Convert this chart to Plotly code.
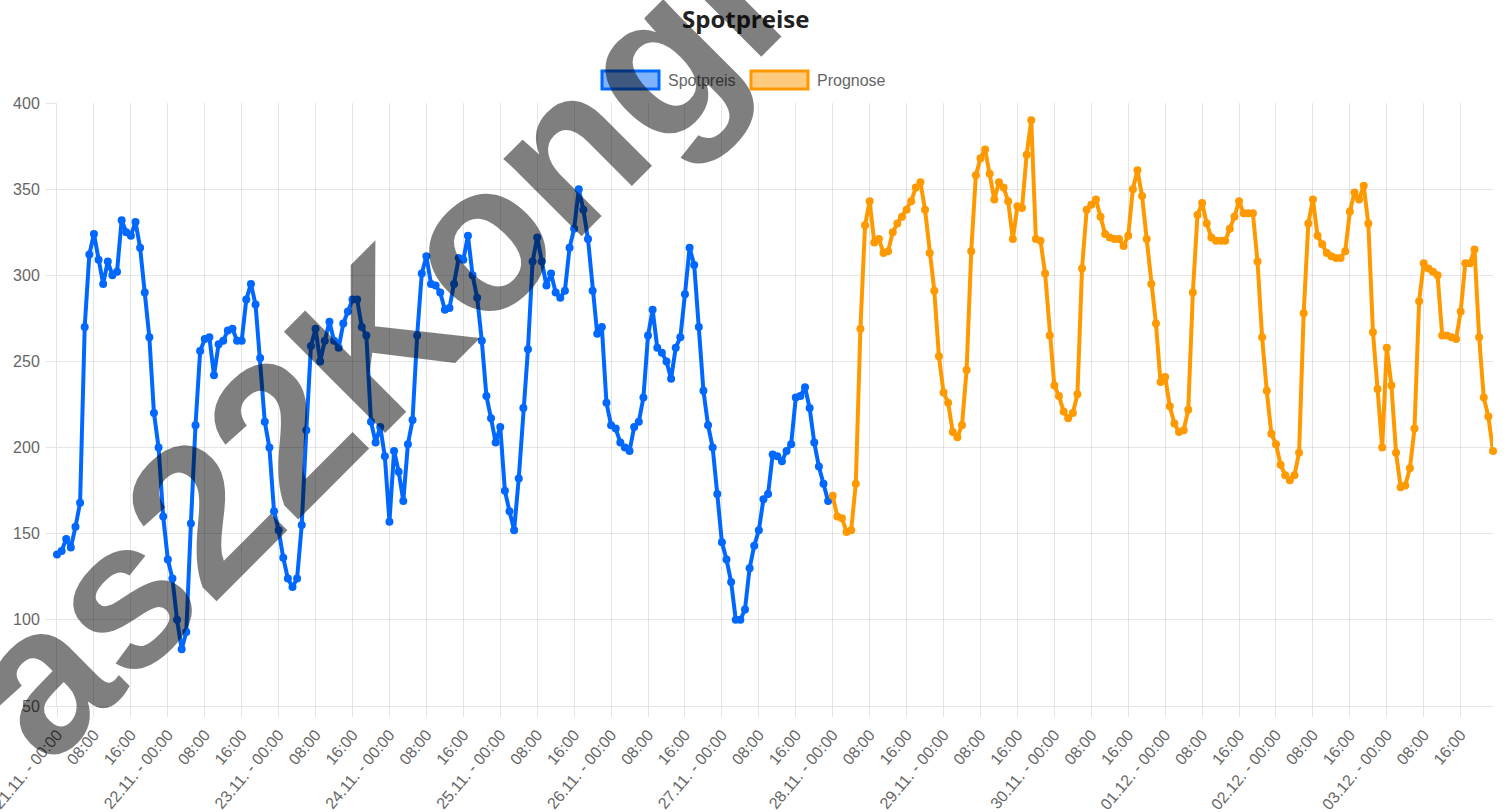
import plotly.graph_objects as go
import pandas as pd

# ---------------- data ----------------
start = "2023-11-21 00:00"
n_hours = 312
spot_start = 0
prog_start = 168

spotpreis = [138,140,147,142,154,168,270,312,324,309, 295,308,300,302,332,325,323,331,316,290,
             264,220,200,160,135,124,100,83,93,156, 213,256,263,264,242,260,262,268,269,262,
             262,286,295,283,252,215,200,163,152,136, 124,119,124,155,210,259,269,250,262,273,
             262,258,272,279,286,286,270,265,215,203, 212,195,157,198,186,169,202,216,265,301,
             311,295,294,290,280,281,295,310,309,323, 300,287,262,230,217,203,212,175,163,152,
             182,223,257,308,322,308,294,301,290,287, 291,316,327,350,338,321,291,266,270,226,
             213,211,203,200,198,212,215,229,265,280, 258,255,250,240,258,264,289,316,306,270,
             233,213,200,173,145,135,122,100,100,106, 130,143,152,170,173,196,195,192,198,202,
             229,230,235,223,203,189,179,169]

prognose = [172,160,159,151,152,179,269,329,343,319, 321,313,314,325,330,334,338,343,351,354,
            338,313,291,253,232,226,209,206,213,245, 314,358,368,373,359,344,354,351,343,321,
            340,339,370,390,321,320,301,265,236,230, 221,217,220,231,304,338,341,344,334,324,
            322,321,321,317,323,350,361,346,321,295, 272,238,241,224,214,209,210,222,290,335,
            342,330,322,320,320,320,327,334,343,336, 336,336,308,264,233,208,202,190,184,181,
            184,197,278,330,344,323,318,313,311,310, 310,314,337,348,344,352,330,267,234,200,
            258,236,197,177,178,188,211,285,307,304, 302,300,265,265,264,263,279,307,307,315,
            264,229,218,198]

times = pd.date_range(start, periods=n_hours, freq="h")
labels = [(t.strftime("%d.%m.") + " - 00:00") if t.hour == 0 else t.strftime("%H:00") for t in times]
tick_step = 8
tickvals = list(range(0, n_hours, tick_step))
ticktext = [labels[i] for i in tickvals]

y_ticks = [50, 100, 150, 200, 250, 300, 350, 400]

# ---------------- styling ----------------
BLUE = "rgb(0,104,255)"
BLUE_FILL = "rgba(0,104,255,0.5)"
ORANGE = "rgb(255,153,0)"
ORANGE_FILL = "rgba(255,153,0,0.5)"
GRID = "rgba(0,0,0,0.1)"
TXT = "#666666"

W, H = 1509, 812
ML, MR, MT, MB = 57, 16, 103, 106
PW = W - ML - MR
PH = H - MT - MB


def px(x):
    return (x - ML) / PW


def py(y):
    return (H - MB - y) / PH


fig = go.Figure()
fig.add_trace(go.Scatter(
    x=list(range(spot_start, spot_start + len(spotpreis))), y=spotpreis,
    mode="lines+markers", name="Spotpreis",
    line=dict(color=BLUE, width=4), marker=dict(color=BLUE, size=8),
    cliponaxis=False, showlegend=False))
fig.add_trace(go.Scatter(
    x=list(range(prog_start, prog_start + len(prognose))), y=prognose,
    mode="lines+markers", name="Prognose",
    line=dict(color=ORANGE, width=4), marker=dict(color=ORANGE, size=8),
    cliponaxis=False, showlegend=False))

shapes = [
    dict(type="rect", xref="paper", yref="paper", x0=px(602), x1=px(659), y0=py(71), y1=py(89),
         line=dict(color=BLUE, width=3), fillcolor=BLUE_FILL),
    dict(type="rect", xref="paper", yref="paper", x0=px(751), x1=px(808), y0=py(71), y1=py(89),
         line=dict(color=ORANGE, width=3), fillcolor=ORANGE_FILL),
]

annotations = [
    dict(text="<b>Spotpreise</b>", xref="paper", yref="paper", x=px(745), y=py(18),
         xanchor="center", yanchor="middle", showarrow=False,
         font=dict(family="Open Sans", size=24, color="#222222")),
    dict(text="Spotpreis", xref="paper", yref="paper", x=px(666), y=py(80),
         xanchor="left", yanchor="middle", showarrow=False,
         font=dict(family="Liberation Sans", size=16, color=TXT)),
    dict(text="Prognose", xref="paper", yref="paper", x=px(815), y=py(80),
         xanchor="left", yanchor="middle", showarrow=False,
         font=dict(family="Liberation Sans", size=16, color=TXT)),
    dict(text="<b>as22Kongi</b>", xref="paper", yref="paper", x=px(369), y=py(347),
         xanchor="center", yanchor="middle", showarrow=False, textangle=-45,
         font=dict(family="Liberation Sans", size=208, color="rgba(0,0,0,0.5)")),
]

fig.update_layout(
    width=W, height=H,
    margin=dict(l=ML, r=MR, t=MT, b=MB, autoexpand=False),
    paper_bgcolor="white", plot_bgcolor="white",
    showlegend=False,
    shapes=shapes, annotations=annotations,
    xaxis=dict(range=[0, n_hours - 1], tickmode="array", tickvals=tickvals, ticktext=ticktext,
               tickangle=-50, showgrid=True, gridcolor=GRID, gridwidth=1,
               showline=True, linecolor=GRID, linewidth=1,
               ticks="outside", ticklen=10, tickcolor=GRID, tickwidth=1,
               ticklabeloverflow="allow", ticklabelstandoff=2, automargin=False,
               tickfont=dict(family="Liberation Sans", size=16, color=TXT), zeroline=False),
    yaxis=dict(range=[50, 400], tickmode="array", tickvals=y_ticks,
               showgrid=True, gridcolor=GRID, gridwidth=1,
               showline=True, linecolor=GRID, linewidth=1,
               ticks="outside", ticklen=10, tickcolor=GRID, tickwidth=1,
               ticklabelstandoff=3, automargin=False,
               tickfont=dict(family="Liberation Sans", size=16, color=TXT), zeroline=False),
)

fig.write_html("out.html", config={"displayModeBar": False},
               post_script="document.body.style.margin='0';document.body.style.overflow='hidden';")
